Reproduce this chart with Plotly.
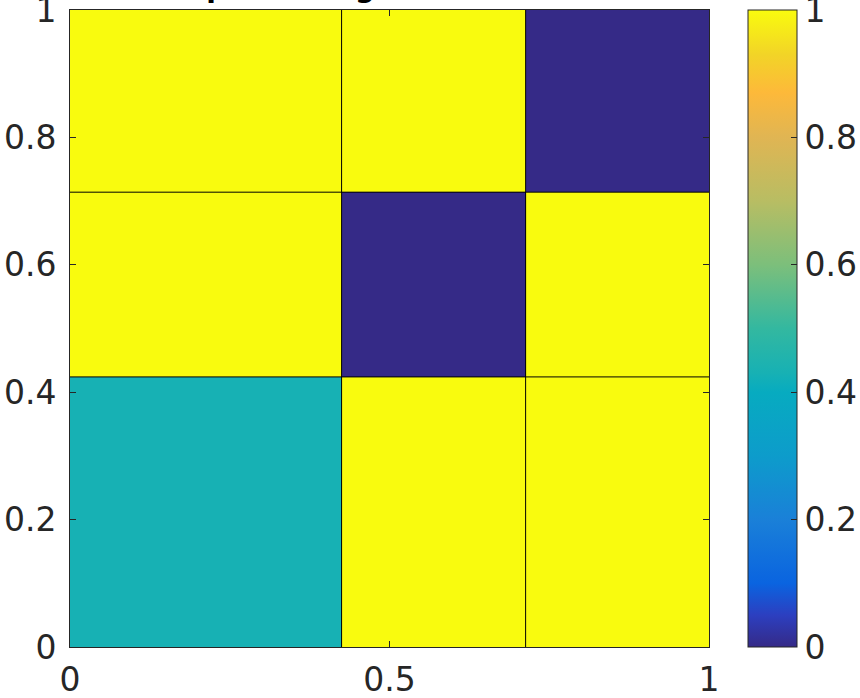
import plotly.graph_objects as go

# Cell edges (non-uniform grid) and values
x_edges = [0.0, 0.425, 0.713, 1.0]
y_edges = [0.0, 0.424, 0.714, 1.0]
z_values = [
    [0.43, 1.0, 1.0],   # bottom row
    [1.0, 0.0, 1.0],    # middle row
    [1.0, 1.0, 0.0],    # top row
]
x_ticks = [0, 0.5, 1]
x_ticklabels = ["0", "0.5", "1"]
y_ticks = [0, 0.2, 0.4, 0.6, 0.8, 1]
y_ticklabels = ["0", "0.2", "0.4", "0.6", "0.8", "1"]
cb_ticks = [0, 0.2, 0.4, 0.6, 0.8, 1]
cb_ticklabels = ["0", "0.2", "0.4", "0.6", "0.8", "1"]
title_text = "Input Storage Matrix"

parula = [
    [0.00, "#352a87"],
    [0.05, "#2c3fc0"],
    [0.10, "#0a64e0"],
    [0.20, "#1a80d8"],
    [0.30, "#0d9ccb"],
    [0.40, "#07abc0"],
    [0.43, "#17b1b4"],
    [0.50, "#33b8a0"],
    [0.60, "#7cbf7b"],
    [0.70, "#b8bd63"],
    [0.80, "#e0b553"],
    [0.87, "#fdb93a"],
    [0.93, "#f2d427"],
    [1.00, "#f9fb0e"],
]

FONT = "DejaVu Sans"
TXT = "#262626"
FS = 33

fig = go.Figure()
fig.add_trace(go.Heatmap(
    x=x_edges, y=y_edges, z=z_values,
    zmin=0, zmax=1, colorscale=parula,
    hoverinfo="skip",
    colorbar=dict(
        x=(748 - 70) / 639, xanchor="left", xref="paper",
        y=0.5, yanchor="middle", len=1.0, lenmode="fraction",
        thickness=49, thicknessmode="pixels",
        outlinecolor=TXT, outlinewidth=1,
        tickvals=cb_ticks, ticktext=cb_ticklabels,
        ticks="inside", ticklen=6, tickcolor=TXT,
        ticklabeloverflow="allow",
        tickfont=dict(family=FONT, size=FS, color=TXT),
        xpad=0, ypad=0,
    ),
))

# cell borders
for xe in x_edges[1:-1]:
    fig.add_shape(type="line", x0=xe, x1=xe, y0=y_edges[0], y1=y_edges[-1],
                  line=dict(color="black", width=1), layer="above")
for ye in y_edges[1:-1]:
    fig.add_shape(type="line", y0=ye, y1=ye, x0=x_edges[0], x1=x_edges[-1],
                  line=dict(color="black", width=1), layer="above")

fig.add_annotation(
    text="<b>" + title_text + "</b>", xref="paper", yref="paper",
    x=(174 - 70) / 639, xanchor="left", y=(647 - 6) / 637, yanchor="bottom",
    showarrow=False, font=dict(family=FONT, size=28, color="black"),
)

axis_common = dict(
    showgrid=False, zeroline=False, showline=True, linecolor=TXT, linewidth=1,
    mirror="ticks", ticks="inside", ticklen=6, tickcolor=TXT,
    ticklabeloverflow="allow", automargin=False,
    tickfont=dict(family=FONT, size=FS, color=TXT),
)
fig.update_layout(
    width=860, height=698,
    margin=dict(l=70, r=151, t=10, b=51, autoexpand=False),
    paper_bgcolor="white", plot_bgcolor="white",
    xaxis=dict(range=[0, 1], tickvals=x_ticks, ticktext=x_ticklabels,
               ticklabelstandoff=3, **axis_common),
    yaxis=dict(range=[0, 1], tickvals=y_ticks, ticktext=y_ticklabels,
               ticklabelstandoff=6, **axis_common),
)

fig.write_html("out.html")
